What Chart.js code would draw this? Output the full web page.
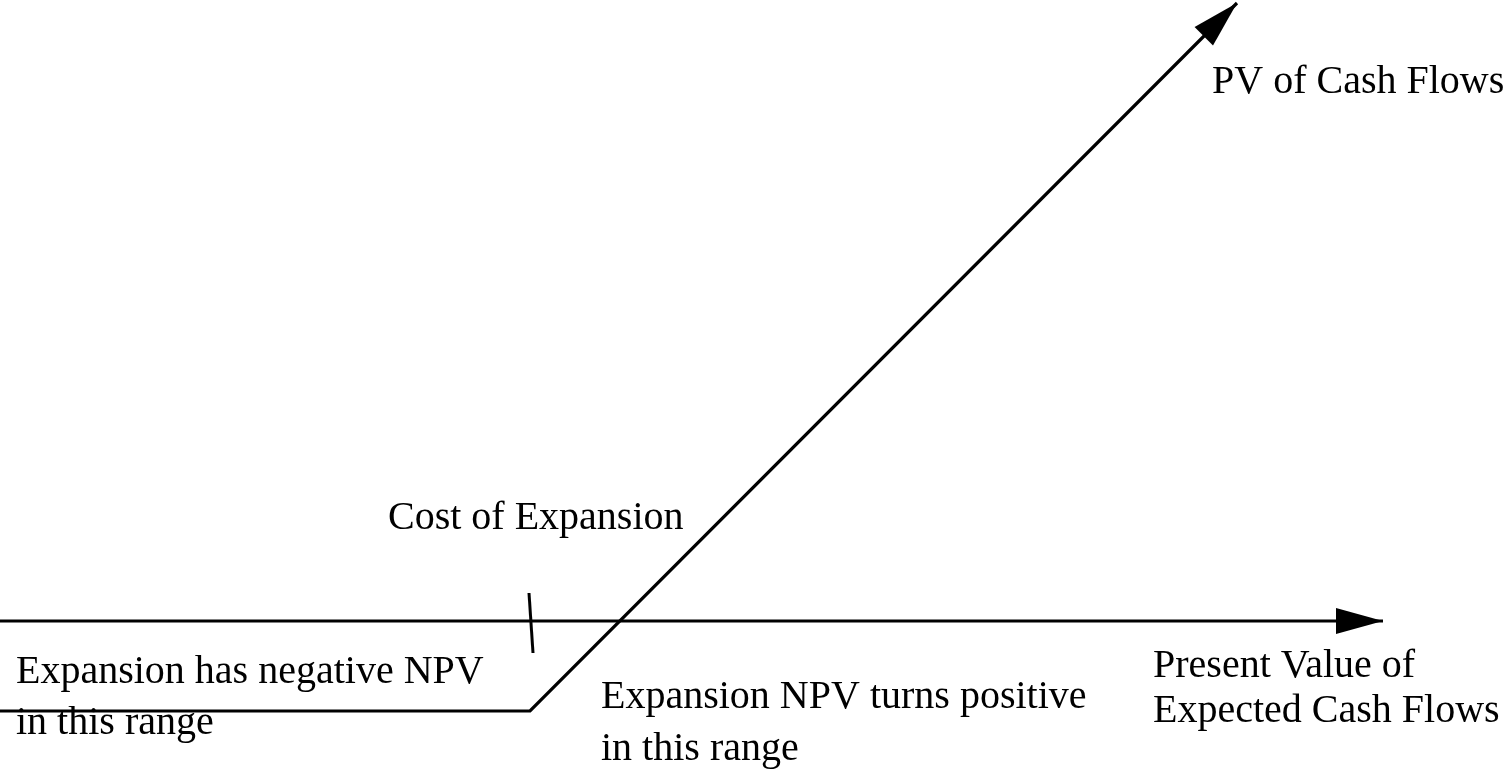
<!DOCTYPE html>
<html>
<head>
<meta charset="utf-8">
<script src="https://cdn.jsdelivr.net/npm/chart.js@4/dist/chart.umd.min.js"></script>
<style>
  html, body { margin: 0; padding: 0; background: #ffffff; }
  #wrap { width: 1504px; height: 769px; position: relative; }
</style>
</head>
<body>
<div id="wrap"><canvas id="c"></canvas></div>
<script>
// ---- data ----
// horizontal axis: present value of expected cash flows
const axisX = [0, 138.3];
const axisY = [0, 0];
// payoff of the expansion option (flat below cost, then rising)
const payoffX = [0, 53.0, 123.7];
const payoffY = [-9.0, -9.0, 61.8];
// small tick marking the cost of expansion
const costTickX = [52.9, 53.3];
const costTickY = [2.8, -3.2];
// text labels
const labelTexts = [
  "PV of Cash Flows",
  "Cost of Expansion",
  "Expansion has negative NPV",
  "in this range",
  "Expansion NPV turns positive",
  "in this range",
  "Present Value of",
  "Expected Cash Flows"
];
const labelX = [121.2, 38.8, 1.6, 1.6, 60.1, 60.1, 115.3, 115.3];
const labelY = [52.8, 9.2, -6.2, -11.3, -8.7, -13.9, -5.6, -10.1];

const toPts = (xs, ys) => xs.map((x, i) => ({ x: x, y: ys[i] }));

const arrowPlugin = {
  id: 'arrows',
  afterDatasetsDraw(chart) {
    const ctx = chart.ctx;
    chart.data.datasets.forEach((ds, i) => {
      if (!ds.arrow) return;
      const pts = chart.getDatasetMeta(i).data;
      const a = pts[pts.length - 2], b = pts[pts.length - 1];
      const ang = Math.atan2(b.y - a.y, b.x - a.x);
      const len = 47, half = 13;
      ctx.save();
      ctx.translate(b.x, b.y);
      ctx.rotate(ang);
      ctx.beginPath();
      ctx.moveTo(0, 0);
      ctx.lineTo(-len, -half);
      ctx.lineTo(-len, half);
      ctx.closePath();
      ctx.fillStyle = '#000';
      ctx.fill();
      ctx.restore();
    });
  }
};

const labelPlugin = {
  id: 'labels',
  afterDraw(chart) {
    const ctx = chart.ctx;
    const xs = chart.scales.x, ys = chart.scales.y;
    ctx.save();
    ctx.font = '40px "Liberation Serif", "Times New Roman", serif';
    ctx.fillStyle = '#000';
    ctx.textAlign = 'left';
    ctx.textBaseline = 'alphabetic';
    labelTexts.forEach((t, i) => {
      ctx.fillText(t, xs.getPixelForValue(labelX[i]), ys.getPixelForValue(labelY[i]));
    });
    ctx.restore();
  }
};

const bgPlugin = {
  id: 'bg',
  beforeDraw(chart) {
    const ctx = chart.ctx;
    ctx.save();
    ctx.fillStyle = '#fff';
    ctx.fillRect(0, 0, chart.width, chart.height);
    ctx.restore();
  }
};

const lineStyle = {
  showLine: true,
  borderColor: '#000',
  borderWidth: 3.2,
  pointRadius: 0,
  pointHoverRadius: 0,
  tension: 0,
  fill: false
};

new Chart(document.getElementById('c'), {
  type: 'scatter',
  data: {
    datasets: [
      Object.assign({ label: 'Present Value of Expected Cash Flows', data: toPts(axisX, axisY), arrow: true }, lineStyle),
      Object.assign({ label: 'PV of Cash Flows', data: toPts(payoffX, payoffY), arrow: true }, lineStyle),
      Object.assign({ label: 'Cost of Expansion', data: toPts(costTickX, costTickY), arrow: false }, lineStyle, { borderWidth: 3 })
    ]
  },
  options: {
    responsive: true,
    maintainAspectRatio: false,
    animation: false,
    layout: { padding: 0 },
    plugins: { legend: { display: false }, tooltip: { enabled: false } },
    scales: {
      x: { type: 'linear', min: 0, max: 150.4, display: false },
      y: { type: 'linear', min: -14.8, max: 62.1, display: false }
    },
    elements: { line: { borderCapStyle: 'butt' } }
  },
  plugins: [bgPlugin, arrowPlugin, labelPlugin]
});
</script>
</body>
</html>
